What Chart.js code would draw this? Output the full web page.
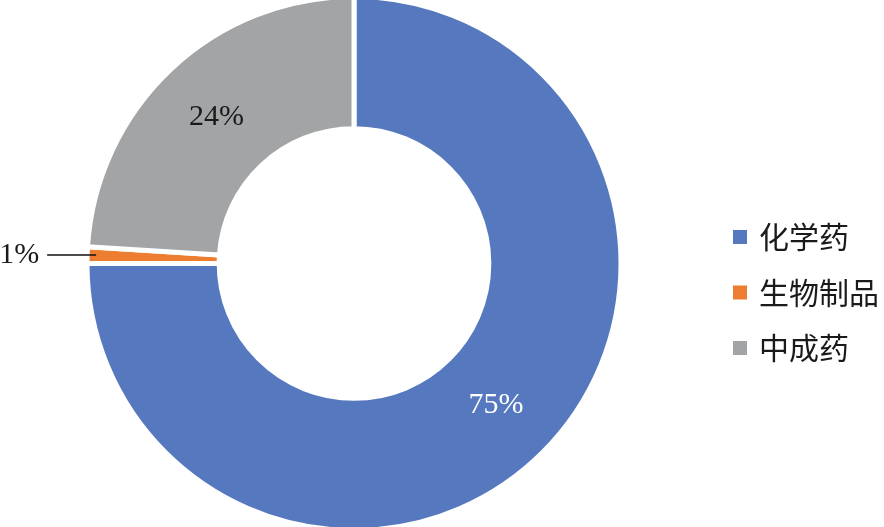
<!DOCTYPE html>
<html>
<head>
<meta charset="utf-8">
<script src="https://cdn.jsdelivr.net/npm/chart.js@4/dist/chart.umd.min.js"></script>
<style>
  html, body { margin: 0; padding: 0; background: #fff; }
  #wrap { width: 884px; height: 527px; position: relative; }
</style>
</head>
<body>
<div id="wrap"><canvas id="chart" width="884" height="527"></canvas></div>
<script>
// data
const categories = ['化学药', '生物制品', '中成药'];
const shares = [75, 1, 24];
const sliceColors = ['#5678BE', '#ED7D31', '#A3A4A6'];
const labelColors = ['#ffffff', '#1a1a1a', '#1a1a1a'];

/**
 * Percentage labels: inside for big slices, leader line for the tiny one
 */
const sliceLabels = {
    id: 'sliceLabels',
    afterDatasetsDraw(chart) {
        const ctx = chart.ctx;
        const arcs = chart.getDatasetMeta(0).data;
        ctx.save();
        ctx.font = '30px "Liberation Serif", "Times New Roman", serif';
        ctx.textBaseline = 'middle';
        arcs.forEach((arc, i) => {
            const text = shares[i] + '%';
            ctx.fillStyle = labelColors[i];
            if (shares[i] >= 5) {
                const pos = arc.tooltipPosition();
                ctx.textAlign = 'center';
                ctx.fillText(text, pos.x, pos.y);
            } else {
                // small slice: line out to the left
                const mid = (arc.startAngle + arc.endAngle) / 2;
                const y = arc.y + Math.sin(mid) * arc.outerRadius;
                const xIn = arc.x + Math.cos(mid) * (arc.outerRadius - 9);
                const xOut = arc.x + Math.cos(mid) * (arc.outerRadius + 40);
                ctx.strokeStyle = '#111';
                ctx.lineWidth = 1.5;
                ctx.beginPath();
                ctx.moveTo(xIn, y);
                ctx.lineTo(xOut, y);
                ctx.stroke();
                ctx.textAlign = 'right';
                ctx.fillText(text, xOut - 8, y);
            }
        });
        ctx.restore();
    }
};

/**
 * Legend on the right, drawn at fixed spots
 */
const sideLegend = {
    id: 'sideLegend',
    afterDraw(chart) {
        const ctx = chart.ctx;
        const x = 733, y0 = 237, step = 55.5, box = 14;
        ctx.save();
        ctx.font = '30px "Noto Sans CJK SC", sans-serif';
        ctx.textBaseline = 'middle';
        ctx.textAlign = 'left';
        categories.forEach((name, i) => {
            const y = y0 + i * step;
            ctx.fillStyle = sliceColors[i];
            ctx.fillRect(x, y - box / 2, box, box);
            ctx.fillStyle = '#1a1a1a';
            ctx.fillText(name, x + 26, y);
        });
        ctx.restore();
    }
};

new Chart(document.getElementById('chart'), {
    type: 'doughnut',
    data: {
        labels: categories,
        datasets: [{
            data: shares,
            backgroundColor: sliceColors,
            borderColor: '#ffffff',
            borderWidth: 5,
            hoverOffset: 0
        }]
    },
    options: {
        responsive: false,
        animation: false,
        radius: 267,
        cutout: '50.5%',
        layout: { padding: { left: 88, right: 264, top: 0, bottom: 0 } },
        plugins: {
            legend: { display: false },
            tooltip: { enabled: false }
        }
    },
    plugins: [sliceLabels, sideLegend]
});
</script>
</body>
</html>
